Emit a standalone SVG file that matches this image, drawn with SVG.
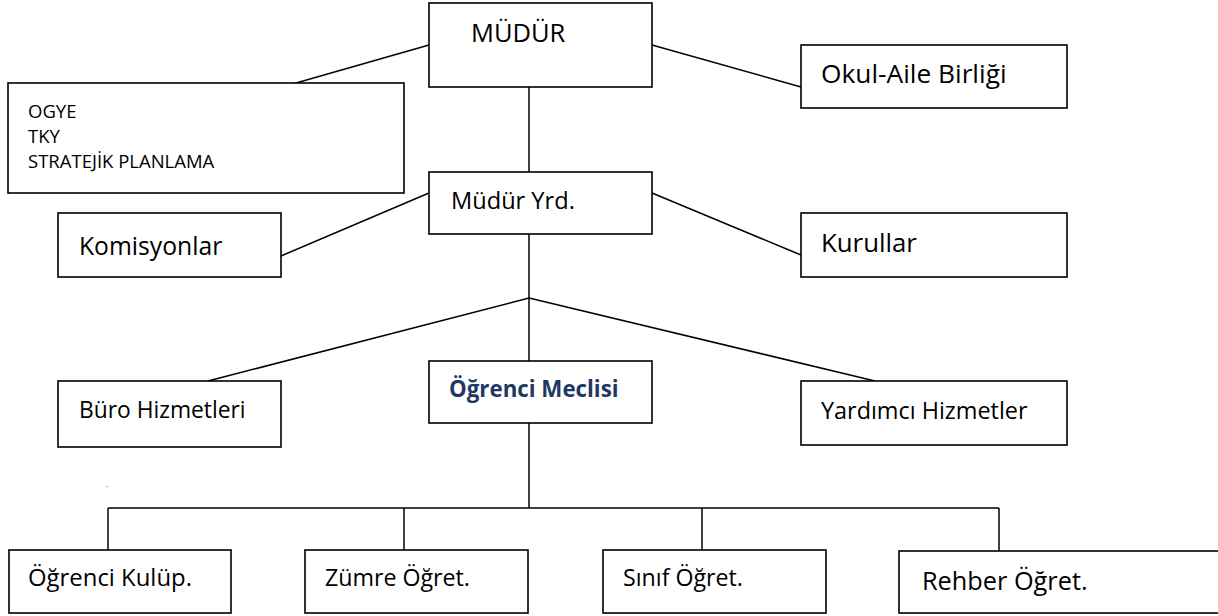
<svg xmlns="http://www.w3.org/2000/svg" width="1218" height="616" viewBox="0 0 1218 616">
<style>
.box{fill:#fff;stroke:#000;stroke-width:1.6}
.ln{stroke:#000;stroke-width:1.5;fill:none}
.t{font-family:"Open Sans","Liberation Sans",sans-serif;fill:#000}
.bold{font-weight:bold;fill:#1F3864}
</style>
<rect width="1218" height="616" fill="#fff"/>
<g id="connectors">
<line class="ln" x1="429" y1="45" x2="282" y2="87"/>
<line class="ln" x1="652" y1="45" x2="801" y2="87"/>
<line class="ln" x1="529" y1="87" x2="529" y2="172"/>
<line class="ln" x1="429" y1="193" x2="281" y2="256"/>
<line class="ln" x1="652" y1="193" x2="801" y2="255"/>
<line class="ln" x1="529" y1="234" x2="529" y2="361"/>
<line class="ln" x1="529" y1="298" x2="208" y2="381"/>
<line class="ln" x1="529" y1="298" x2="875" y2="381"/>
<line class="ln" x1="529" y1="423" x2="529" y2="508"/>
<line class="ln" x1="108" y1="508" x2="999" y2="508"/>
<line class="ln" x1="108" y1="508" x2="108" y2="550"/>
<line class="ln" x1="404" y1="508" x2="404" y2="550"/>
<line class="ln" x1="702" y1="508" x2="702" y2="550"/>
<line class="ln" x1="999" y1="508" x2="999" y2="551"/>
</g>
<g id="mudur"><rect class="box" x="429" y="3" width="223" height="84"/><text class="t" font-size="25.5" x="471" y="42">MÜDÜR</text></g>
<g id="ogye"><rect class="box" x="8" y="83" width="396" height="110"/>
<text class="t" font-size="18.5" x="28" y="118">OGYE</text>
<text class="t" font-size="18.5" x="28" y="143">TKY</text>
<text class="t" font-size="18.5" x="28" y="168">STRATEJİK PLANLAMA</text></g>
<g id="okul-aile"><rect class="box" x="801" y="45" width="266" height="63"/><text class="t" font-size="26.3" x="821" y="83">Okul-Aile Birliği</text></g>
<g id="mudur-yrd"><rect class="box" x="429" y="172" width="223" height="62"/><text class="t" font-size="23.6" x="451" y="209">Müdür Yrd.</text></g>
<g id="komisyonlar"><rect class="box" x="58" y="213" width="223" height="64"/><text class="t" font-size="24.7" x="79" y="255">Komisyonlar</text></g>
<g id="kurullar"><rect class="box" x="801" y="213" width="266" height="64"/><text class="t" font-size="25.8" x="821" y="252">Kurullar</text></g>
<g id="ogrenci-meclisi"><rect class="box" x="429" y="361" width="223" height="62"/><text class="t bold" font-size="22.3" x="449" y="397">Öğrenci Meclisi</text></g>
<g id="buro"><rect class="box" x="58" y="381" width="223" height="66"/><text class="t" font-size="22.8" x="79" y="418">Büro Hizmetleri</text></g>
<g id="yardimci"><rect class="box" x="801" y="381" width="266" height="64"/><text class="t" font-size="23.4" x="821" y="419">Yardımcı Hizmetler</text></g>
<rect x="106.5" y="486" width="1.2" height="1.2" fill="#888"/>
<g id="kulup"><rect class="box" x="9" y="550" width="222" height="63"/><text class="t" font-size="23.9" x="28" y="586">Öğrenci Kulüp.</text></g>
<g id="zumre"><rect class="box" x="305" y="550" width="223" height="63"/><text class="t" font-size="23.2" x="325" y="586">Zümre Öğret.</text></g>
<g id="sinif"><rect class="box" x="603" y="550" width="223" height="63"/><text class="t" font-size="23.2" x="623" y="586">Sınıf Öğret.</text></g>
<g id="rehber"><rect class="box" x="899" y="551" width="330" height="62"/><text class="t" font-size="25.3" x="922" y="590">Rehber Öğret.</text></g>
</svg>
